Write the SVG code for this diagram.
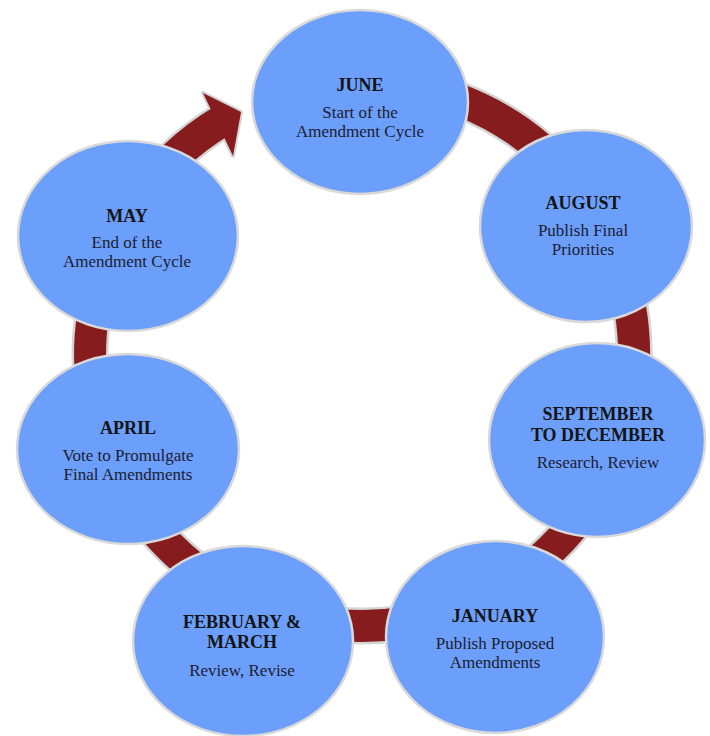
<svg xmlns="http://www.w3.org/2000/svg" width="710" height="736" viewBox="0 0 710 736">
<style>
.node ellipse{fill:#6b9ffb;stroke:#d9d9d9;stroke-width:2.5}
.t{font-family:"Liberation Serif","Times New Roman",serif;font-size:18px;font-weight:bold;fill:#141414;text-anchor:middle}
.s{font-family:"Liberation Serif","Times New Roman",serif;font-size:17px;fill:#1c2030;text-anchor:middle}
</style>
<rect width="710" height="736" fill="#ffffff"/>
<g id="connectors">
<path d="M 338.3 83 A 272 272 0 1 1 224 119.6" fill="none" stroke="#d4d4d4" stroke-width="37"/>
<polygon points="203,93 241,112 233,156" fill="#d4d4d4" stroke="#d4d4d4" stroke-width="4" stroke-linejoin="round"/>
<path d="M 338.3 83 A 272 272 0 1 1 224 119.6" fill="none" stroke="#861c1e" stroke-width="32"/>
<polygon points="203,93 241,112 233,156" fill="#861c1e"/>
</g>
<g id="june" class="node">
<ellipse cx="360" cy="102" rx="108" ry="92"/>
<text class="t" x="360" y="91">JUNE</text>
<text class="s" x="360" y="118">Start of the</text>
<text class="s" x="360" y="137">Amendment Cycle</text>
</g>
<g id="august" class="node">
<ellipse cx="586" cy="226" rx="106" ry="96"/>
<text class="t" x="583" y="209">AUGUST</text>
<text class="s" x="583" y="236">Publish Final</text>
<text class="s" x="583" y="255">Priorities</text>
</g>
<g id="september" class="node">
<ellipse cx="597" cy="440" rx="108" ry="97"/>
<text class="t" x="598" y="420">SEPTEMBER</text>
<text class="t" x="598" y="441">TO DECEMBER</text>
<text class="s" x="598" y="468">Research, Review</text>
</g>
<g id="january" class="node">
<ellipse cx="495" cy="637" rx="109" ry="96"/>
<text class="t" x="495" y="622">JANUARY</text>
<text class="s" x="495" y="649">Publish Proposed</text>
<text class="s" x="495" y="668">Amendments</text>
</g>
<g id="february" class="node">
<ellipse cx="243" cy="641" rx="110" ry="95"/>
<text class="t" x="242" y="628">FEBRUARY &amp;</text>
<text class="t" x="242" y="648">MARCH</text>
<text class="s" x="242" y="676">Review, Revise</text>
</g>
<g id="april" class="node">
<ellipse cx="128" cy="449" rx="111" ry="95"/>
<text class="t" x="128" y="434">APRIL</text>
<text class="s" x="128" y="461">Vote to Promulgate</text>
<text class="s" x="128" y="480">Final Amendments</text>
</g>
<g id="may" class="node">
<ellipse cx="128" cy="236" rx="110" ry="95"/>
<text class="t" x="127" y="222">MAY</text>
<text class="s" x="127" y="248">End of the</text>
<text class="s" x="127" y="267">Amendment Cycle</text>
</g>
</svg>
